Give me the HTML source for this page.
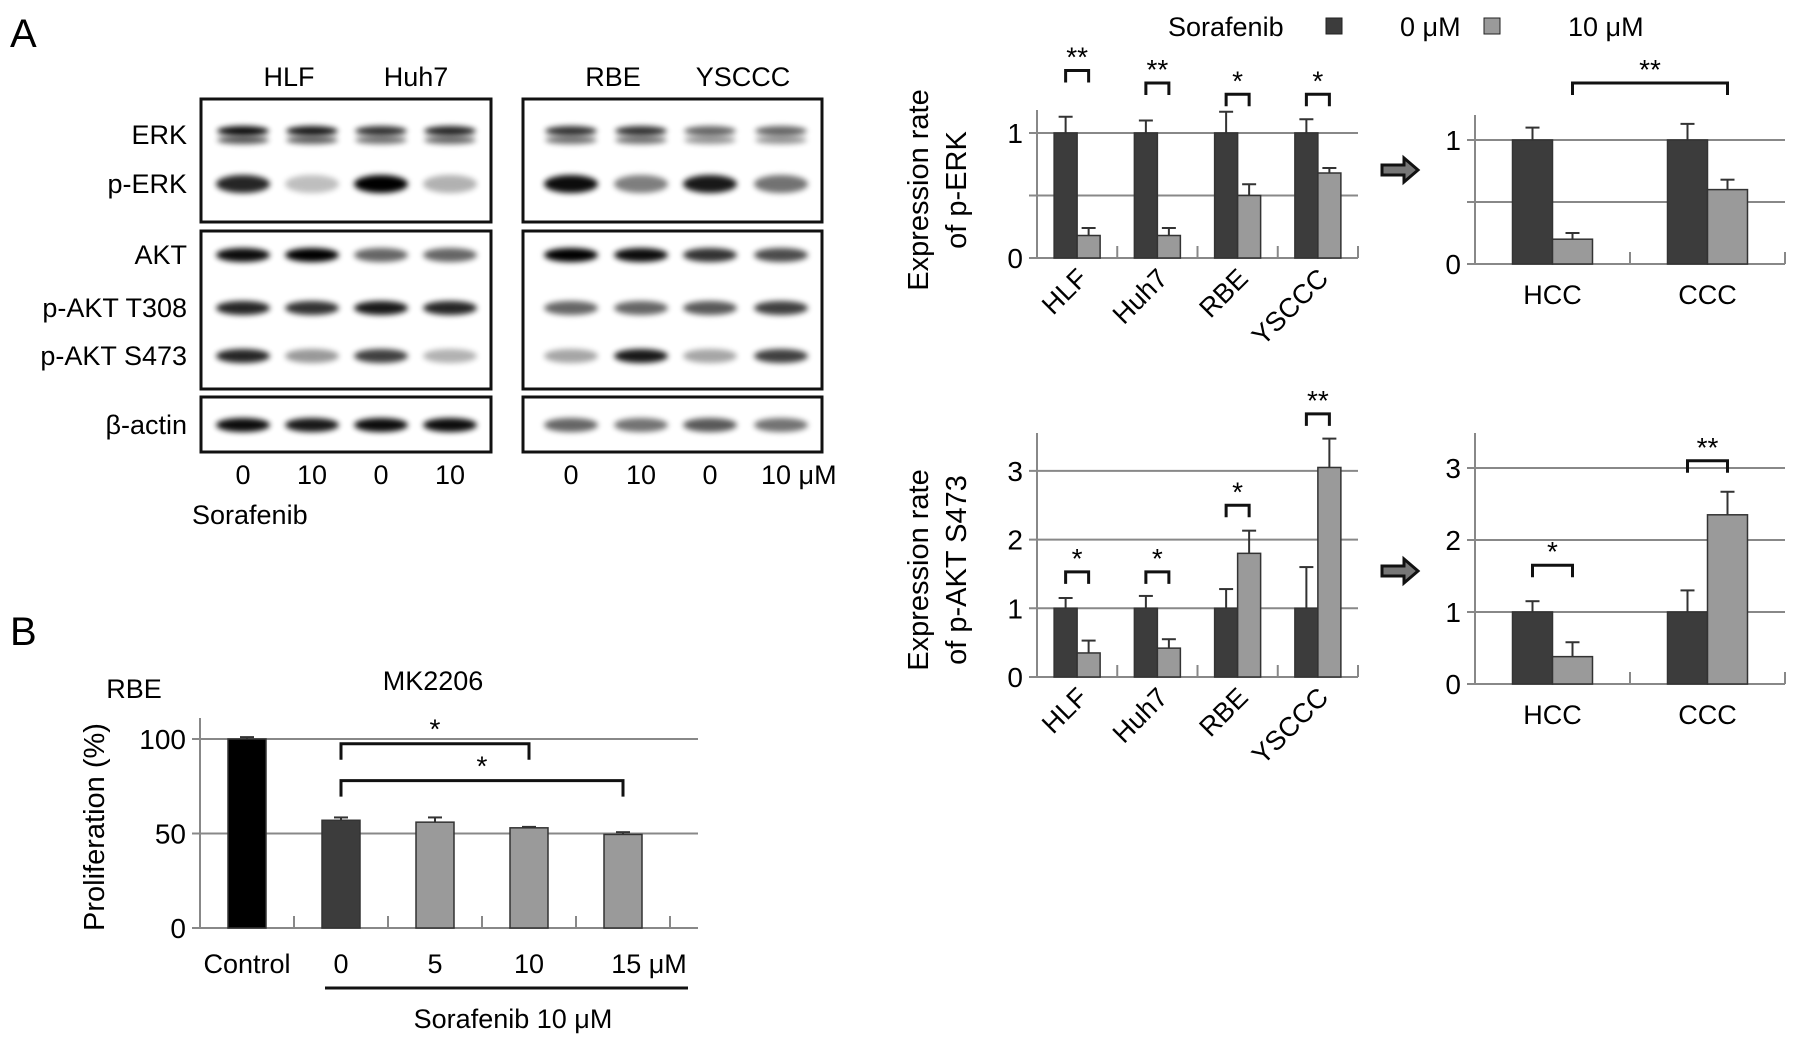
<!DOCTYPE html>
<html><head><meta charset="utf-8">
<style>
html,body{margin:0;padding:0;background:#fff;}
svg{display:block;font-family:"Liberation Sans",sans-serif;}
</style></head>
<body>
<svg id="fig" width="1795" height="1045" viewBox="0 0 1795 1045">
<defs>
<filter id="blur" x="-30%" y="-100%" width="160%" height="300%"><feGaussianBlur stdDeviation="3"/></filter>
</defs>
<g id="blots"></g>
<g id="charts"></g>
</svg>
<script>
// ---------- data ----------
const blotRows = ["ERK","p-ERK","AKT","p-AKT T308","p-AKT S473","β-actin"];
const blotLeftIntensity = [[.95,.9,.8,.85],[.85,.25,1,.3],[.95,1,.6,.6],[.85,.8,.9,.85],[.85,.4,.75,.3],[.95,.9,.95,.95]];
const blotRightIntensity = [[.8,.8,.6,.6],[.95,.5,.9,.55],[1,.95,.8,.7],[.6,.6,.65,.75],[.35,.9,.35,.75],[.6,.55,.65,.55]];

const cellLines = ["HLF","Huh7","RBE","YSCCC"];
const perkCtrl = [1,1,1,1];
const perkCtrlErr = [0.13,0.1,0.17,0.11];
const perkSora = [0.18,0.18,0.5,0.68];
const perkSoraErr = [0.06,0.06,0.09,0.04];
const perkSig = ["**","**","*","*"];
const perkSigY = [1.5,1.4,1.31,1.31];

const groups = ["HCC","CCC"];
const perkGrpCtrl = [1,1];
const perkGrpCtrlErr = [0.1,0.13];
const perkGrpSora = [0.2,0.6];
const perkGrpSoraErr = [0.05,0.08];

const aktCtrl = [1,1,1,1];
const aktCtrlErr = [0.15,0.18,0.28,0.6];
const aktSora = [0.35,0.42,1.8,3.05];
const aktSoraErr = [0.18,0.13,0.33,0.42];
const aktSig = ["*","*","*","**"];
const aktSigY = [1.53,1.53,2.5,3.83];

const aktGrpCtrl = [1,1];
const aktGrpCtrlErr = [0.15,0.3];
const aktGrpSora = [0.38,2.35];
const aktGrpSoraErr = [0.2,0.32];
const aktGrpSig = ["*","**"];
const aktGrpSigY = [1.65,3.1];

const prolifCats = ["Control","0","5","10","15 μM"];
const prolifVals = [100,57,56,53,49.5];
const prolifErr = [1,1.5,2.5,0.5,1.2];

const DARK="#3c3c3c", LIGHT="#9a9a9a", GRID="#888";
const NS="http://www.w3.org/2000/svg";
function el(parent,tag,attrs,text){
  const e=document.createElementNS(NS,tag);
  for(const k in attrs) e.setAttribute(k,attrs[k]);
  if(text!==undefined) e.textContent=text;
  parent.appendChild(e); return e;
}
const svg=document.getElementById('fig');
const blots=document.getElementById('blots');
const charts=document.getElementById('charts');

// ---------- panel letters ----------
let t=el(svg,'text',{x:10,y:47,'font-size':40});t.textContent='A';


t=el(svg,'text',{x:10,y:645,'font-size':40});t.textContent='B';



// ---------- blots ----------
const rowY=[135,184,255,308,356,425];
const leftLanes=[243,312,381,450], rightLanes=[571,641,710,781];
[[201,99,290,123],[201,231,290,158],[201,397,290,55],[523,99,299,123],[523,231,299,158],[523,397,299,55]].forEach((b,i)=>{
  const r=el(blots,'rect',{x:b[0],y:b[1],width:b[2],height:b[3],fill:'#fff',stroke:'#111','stroke-width':3});
  
  
});
function bands(lanes,inten){
  inten.forEach((row,ri)=>{
    row.forEach((v,li)=>{
      const cx=lanes[li], cy=rowY[ri];
      if(ri===0){
        const a=el(blots,'ellipse',{cx:cx,cy:cy-4,rx:26,ry:5,fill:'#000',opacity:v,filter:'url(#blur)'});
        
        
        const b=el(blots,'ellipse',{cx:cx,cy:cy+5,rx:26,ry:4,fill:'#000',opacity:v*0.7,filter:'url(#blur)'});
        
        
      } else {
        const a=el(blots,'ellipse',{cx:cx,cy:cy,rx:27,ry:ri===1?9:7,fill:'#000',opacity:v,filter:'url(#blur)'});
        
        
      }
    });
  });
}
bands(leftLanes,blotLeftIntensity);
bands(rightLanes,blotRightIntensity);
blotRows.forEach((n,i)=>{
  const tt=el(blots,'text',{x:187,y:rowY[i]+9,'font-size':27,'text-anchor':'end'},n);
  
  
});
[["HLF",289],["Huh7",416],["RBE",613],["YSCCC",743]].forEach(c=>{
  const tt=el(blots,'text',{x:c[1],y:86,'font-size':27,'text-anchor':'middle'},c[0]);
  
  
});
["0","10","0","10"].forEach((s,i)=>{
  const tt=el(blots,'text',{x:leftLanes[i],y:484,'font-size':27,'text-anchor':'middle'},s);
  
  
});
["0","10","0","10 μM"].forEach((s,i)=>{
  const tt=el(blots,'text',{x:i===3?rightLanes[i]-20:rightLanes[i],y:484,'font-size':27,'text-anchor':i===3?'start':'middle'},s);
  
  
});
t=el(blots,'text',{x:192,y:524,'font-size':27},'Sorafenib');



// ---------- legend ----------
t=el(charts,'text',{x:1168,y:36,'font-size':27},'Sorafenib');


t=el(charts,'rect',{x:1326,y:18,width:16,height:16,fill:DARK,stroke:'#222'});


t=el(charts,'text',{x:1400,y:36,'font-size':27},'0 μM');


t=el(charts,'rect',{x:1484,y:18,width:16,height:16,fill:LIGHT,stroke:'#222'});


t=el(charts,'text',{x:1568,y:36,'font-size':27},'10 μM');


[[1400,170],[1400,571]].forEach(p=>{
  const a=el(charts,'path',{d:`M${p[0]-18} ${p[1]-5} h22 v-7 l14 12 l-14 12 v-7 h-22 z`,fill:'#777',stroke:'#111','stroke-width':3});
  
  
});

// ---------- generic chart ----------
function chart(c){
  const g=el(charts,'g',{});
  
  
  const y=v=>c.zeroY-v*c.unit;
  const n=c.cats.length;
  const gw=(c.x1-c.x0)/n;
  const axEnd=c.axEnd||c.x1;
  const cx=i=>c.x0+gw*(i+0.5);
  c.grid.forEach(v=>{
    const l=el(g,'line',{x1:c.x0-8,x2:axEnd,y1:y(v),y2:y(v),stroke:GRID,'stroke-width':2});
    
    
  });
  const ax=el(g,'line',{x1:c.x0,x2:c.x0,y1:c.topY,y2:c.zeroY,stroke:GRID,'stroke-width':2});
  
  
  const bx=el(g,'line',{x1:c.x0-8,x2:axEnd,y1:c.zeroY,y2:c.zeroY,stroke:GRID,'stroke-width':2});
  
  
  for(let i=1;i<=n;i++){
    const tx=Math.min(c.x0+gw*i,axEnd);
    const tk=el(g,'line',{x1:tx,x2:tx,y1:c.zeroY,y2:c.zeroY-12,stroke:GRID,'stroke-width':2});
    
    
  }
  c.ticks.forEach(v=>{
    const tl=el(g,'text',{x:c.x0-14,y:y(v)+10,'font-size':28,'text-anchor':'end'},String(v));
    
    
  });
  function bar(i,v,e,off,fill){
    const x=cx(i)+off;
    const top=y(v);
    if(e>0){
      const ev=el(g,'line',{x1:x,x2:x,y1:top,y2:y(v+e),stroke:'#333','stroke-width':2});
      
      
      const ec=el(g,'line',{x1:x-7,x2:x+7,y1:y(v+e),y2:y(v+e),stroke:'#333','stroke-width':2});
      
      
    }
    const r=el(g,'rect',{x:x-c.bw/2,y:top,width:c.bw,height:c.zeroY-top,fill:fill,stroke:'#333','stroke-width':1.5});
    
    
  }
  c.cats.forEach((cat,i)=>{
    if(c.single){
      bar(i,c.a[i],c.ae[i],0,c.colors[i]);
    } else {
      bar(i,c.a[i],c.ae[i],-c.bw/2,DARK);
      bar(i,c.b[i],c.be[i],c.bw/2,LIGHT);
    }
    let lab;
    if(c.rotate){
      lab=el(g,'text',{x:cx(i)+12,y:c.zeroY+22,'font-size':27,'text-anchor':'end',transform:`rotate(-45 ${cx(i)+12} ${c.zeroY+22})`},cat);
    } else {
      lab=el(g,'text',{x:cx(i)+(c.labOff?c.labOff[i]:0),y:c.zeroY+c.labDy,'font-size':27,'text-anchor':'middle'},cat);
    }
    
    
  });
  if(c.sig){
    c.sig.forEach((s,i)=>{
      if(!s) return;
      const yy=y(c.sigY[i]);
      const x1=cx(i)-c.bw/2, x2=cx(i)+c.bw/2;
      const br=el(g,'path',{d:`M${x1} ${yy+12} V${yy} H${x2} V${yy+12}`,fill:'none',stroke:'#111','stroke-width':3});
      
      
      const st=el(g,'text',{x:(x1+x2)/2,y:yy-4,'font-size':28,'text-anchor':'middle'},s);
      
      
    });
  }
  c.ytitle.forEach((tt,k)=>{
    const tx=c.ytx[k];
    const yt=el(g,'text',{x:tx,y:c.yty,'font-size':29,'text-anchor':'middle',transform:`rotate(-90 ${tx} ${c.yty})`},tt);
    
    
  });
  return {g,y,cx};
}

chart({name:'perk-cell-line-chart',cats:cellLines,x0:1037,x1:1358,zeroY:258,unit:125,topY:110,bw:23,
  grid:[0.5,1],ticks:[0,1],a:perkCtrl,ae:perkCtrlErr,b:perkSora,be:perkSoraErr,rotate:true,
  sig:perkSig,sigY:perkSigY,ytitle:['Expression rate','of p-ERK'],ytx:[928,966],yty:190});

const c2=chart({name:'perk-group-chart',cats:groups,x0:1475,x1:1785,zeroY:264,unit:124,topY:115,bw:40,
  grid:[0.5,1],ticks:[0,1],a:perkGrpCtrl,ae:perkGrpCtrlErr,b:perkGrpSora,be:perkGrpSoraErr,labDy:40,
  ytitle:[],ytx:[],yty:0});
{
  const yy=c2.y(1.46), x1=c2.cx(0)+20, x2=c2.cx(1)+20;
  const br=el(c2.g,'path',{d:`M${x1} ${yy+12} V${yy} H${x2} V${yy+12}`,fill:'none',stroke:'#111','stroke-width':3});
  
  
  const st=el(c2.g,'text',{x:(x1+x2)/2,y:yy-4,'font-size':28,'text-anchor':'middle'},'**');
  
  
}

chart({name:'pakt-cell-line-chart',cats:cellLines,x0:1037,x1:1358,zeroY:677,unit:68.7,topY:433,bw:23,
  grid:[1,2,3],ticks:[0,1,2,3],a:aktCtrl,ae:aktCtrlErr,b:aktSora,be:aktSoraErr,rotate:true,
  sig:aktSig,sigY:aktSigY,ytitle:['Expression rate','of p-AKT S473'],ytx:[928,966],yty:570});

chart({name:'pakt-group-chart',cats:groups,x0:1475,x1:1785,zeroY:684,unit:72,topY:433,bw:40,
  grid:[1,2,3],ticks:[0,1,2,3],a:aktGrpCtrl,ae:aktGrpCtrlErr,b:aktGrpSora,be:aktGrpSoraErr,labDy:40,
  sig:aktGrpSig,sigY:aktGrpSigY,ytitle:[],ytx:[],yty:0});

// ---------- panel B ----------
const pb=chart({name:'proliferation-chart',cats:prolifCats,x0:200,x1:670,axEnd:698,zeroY:928,unit:1.89,topY:718,bw:38,single:true,
  colors:['#000',DARK,LIGHT,LIGHT,LIGHT],grid:[50,100],ticks:[0,50,100],a:prolifVals,ae:prolifErr,labDy:45,
  labOff:[0,0,0,0,26],ytitle:['Proliferation (%)'],ytx:[104],yty:827});
[[1,3,97.5],[1,4,78]].forEach(s=>{
  const yy=pb.y(s[2]), x1=pb.cx(s[0]), x2=pb.cx(s[1]);
  const br=el(pb.g,'path',{d:`M${x1} ${yy+16} V${yy} H${x2} V${yy+16}`,fill:'none',stroke:'#111','stroke-width':3});
  
  
  const st=el(pb.g,'text',{x:(x1+x2)/2,y:yy-5,'font-size':28,'text-anchor':'middle'},'*');
  
  
});
t=el(charts,'line',{x1:325,x2:688,y1:988,y2:988,stroke:'#111','stroke-width':3});


t=el(charts,'text',{x:513,y:1028,'font-size':27,'text-anchor':'middle'},'Sorafenib 10 μM');


t=el(charts,'text',{x:134,y:698,'font-size':27,'text-anchor':'middle'},'RBE');


t=el(charts,'text',{x:433,y:690,'font-size':27,'text-anchor':'middle'},'MK2206');


</script>
</body></html>
